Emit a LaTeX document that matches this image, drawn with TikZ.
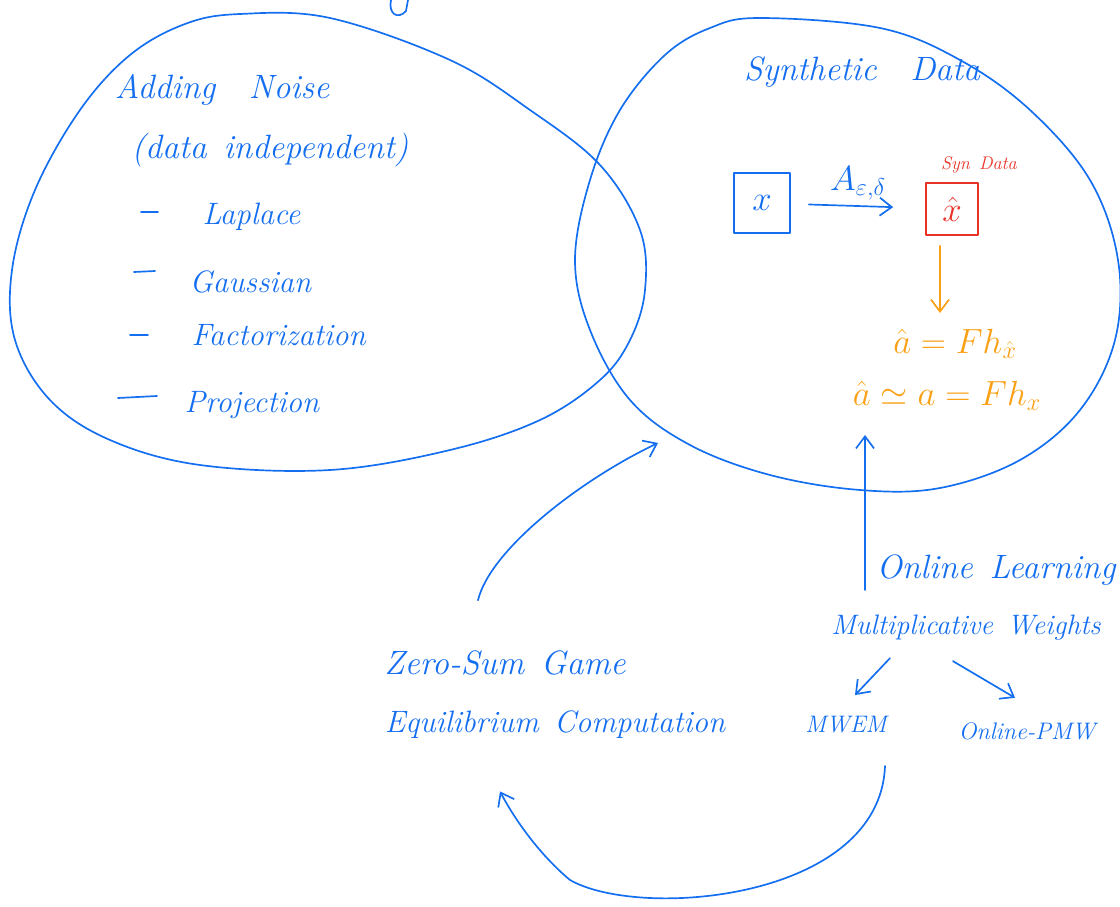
\documentclass[tikz,border=0pt]{standalone}
\usepackage{fontspec}
\usetikzlibrary{arrows.meta}
\definecolor{ink}{RGB}{20,110,240}
\definecolor{synred}{RGB}{232,50,40}
\definecolor{amber}{RGB}{250,160,20}
\begin{document}
\begin{tikzpicture}[x=0.025cm,y=-0.025cm,line width=1.2pt,line cap=round,line join=round]
	\tikzset{hand/.style={text=ink,font=\fontsize{24}{28}\selectfont\itshape},
		list hand/.style={text=ink,font=\fontsize{22}{26}\selectfont\itshape},
		small hand/.style={text=ink,font=\fontsize{17}{20}\selectfont\itshape},
		formula/.style={text=amber,inner sep=1pt,font=\fontsize{24}{28}\selectfont},
		pen/.style={draw=ink},
		barb/.style={-{Straight Barb[length=3mm,width=4.5mm]}}}
	\useasboundingbox (0,0) rectangle (1120,907);
	\draw [pen] plot [smooth cycle,tension=0.6] coordinates {(240,14) (330,18) (450,60) (530,110) (600,165) (640,230) (645,290) (630,340) (600,380) (540,420) (450,450) (330,470) (200,465) (110,440) (50,400) (15,340) (12,270) (35,190) (80,110) (130,55) (185,24)};
	\draw [pen] plot [smooth cycle,tension=0.6] coordinates {(760,18) (880,28) (960,60) (1030,110) (1090,180) (1118,260) (1115,340) (1080,410) (1020,460) (940,488) (860,490) (770,475) (690,445) (630,400) (590,330) (575,260) (590,180) (620,110) (665,55) (710,28)};
	\draw [pen] (391,0) .. controls (388,14) and (398,20) .. (406,11) -- (408,0);
		\node [hand] (A) at (222,90) {Adding\quad Noise};
		\node [hand] (A1) at (270,150) {(data\enspace independent)};
		\node [list hand,anchor=west] (L1) at (197,217) {Laplace};
		\node [list hand,anchor=west] (L2) at (184,282) {Gaussian};
		\node [list hand,anchor=west] (L3) at (186,335) {Factorization};
		\node [list hand,anchor=west] (L4) at (179,405) {Projection};
	\draw [pen] (141,212) -- (158,212);
	\draw [pen] (134,272) -- (155,271);
	\draw [pen] (130,335) -- (148,335);
	\draw [pen] (118,398) -- (157,396);
		\node [hand] (S) at (862,72) {Synthetic\quad Data};
		\node [hand,draw=ink,minimum width=1.4cm,minimum height=1.5cm] (X) at (762,203) {$x$};
		\node [text=synred,draw=synred,inner sep=1pt,minimum width=1.3cm,minimum height=1.3cm,font=\fontsize{24}{28}\selectfont] (XH) at (952,209) {$\hat{x}$};
		\node [text=synred,inner sep=1pt,font=\fontsize{13}{15}\selectfont\itshape] (SD) at (979,165) {Syn\enspace Data};
	\draw [pen,barb,shorten <=0.45cm,shorten >=0.8cm] (X) -- node [hand,above] {$A_{\varepsilon,\delta}$} (XH);
		\node [formula] (F1) at (955,344) {$\hat{a} = F h_{\hat{x}}$};
		\node [formula] (F2) at (947,396) {$\hat{a} \simeq a = F h_x$};
	\draw [amber,barb,shorten <=0.25cm,shorten >=0.35cm] ([xshift=-0.3cm]XH.south) -- ([xshift=-0.3cm]XH.south |- F1.north);
		\node [hand] (OL) at (996,570) {Online\enspace Learning};
		\node [hand,font=\fontsize{20}{24}\selectfont\itshape] (MW) at (966,628) {Multiplicative\enspace Weights};
		\node [small hand] (ME) at (846,725) {MWEM};
		\node [small hand] (OP) at (1027,731) {Online-PMW};
	\coordinate (U) at (865,590);
	\coordinate (T) at (865,435);
	\draw [pen,barb] (U) -- (T);
	\draw [pen,barb] ([shift={(-76,12)}]MW.south) -- ([shift={(9,-16)}]ME.north);
	\draw [pen,barb] ([shift={(-13,15)}]MW.south) -- ([shift={(-12,-19)}]OP.north);
		\node [hand] (ZS) at (505,663) {Zero-Sum\enspace Game};
		\node [hand,font=\fontsize{22}{26}\selectfont\itshape] (EC) at (555,725) {Equilibrium\enspace Computation};
	\coordinate (E) at (658,443);
	\draw [pen,barb] ([shift={(-27,-45)}]ZS.north) .. controls (490,550) and (580,480) .. (E);
	\draw [pen,barb] ([shift={(39,27)}]ME.south) .. controls (880,900) and (640,920) .. (570,880) .. controls (540,855) and (515,820) .. ([shift={(-55,47)}]EC.south);
\end{tikzpicture}
\end{document}
